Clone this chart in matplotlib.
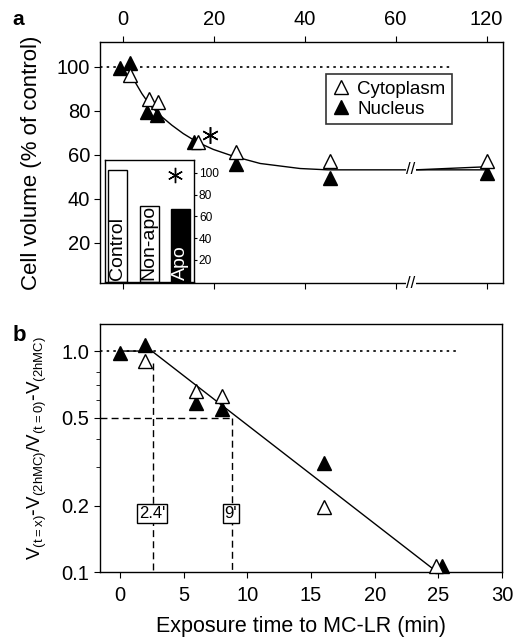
import matplotlib
matplotlib.use("Agg")
import matplotlib.pyplot as plt
import numpy as np

plt.rcParams['font.family'] = ['Liberation Sans', 'DejaVu Sans']
plt.rcParams['axes.linewidth'] = 1.0

# ---- panel a: cell volume (% of control); 120 min is drawn at position 80 after the break
time_cyto_a = [1.6, 5.8, 7.8, 16.5, 24.8, 45.5, 120]
cyto_a = [96.4, 85.5, 84, 66, 61.4, 57, 57]
time_nuc_a = [-0.6, 1.6, 5.4, 7.6, 15.7, 25, 45.5, 120]
nuc_a = [99.5, 102, 79.5, 78, 66, 56, 49.5, 51.8]

# fitted curve
fit_t = [1.6, 2.7, 4.2, 6, 8.2, 10.8, 13.3, 16.3, 19.9, 24.3, 30.2, 39, 45, 62]
fit_v = [97.1, 93.2, 87.9, 82.6, 78, 73.5, 69.7, 65.9, 62.5, 59.4, 56.1, 53.8, 53.2, 53.2]
fit_t2 = [64.3, 120]
fit_v2 = [53.2, 54.6]

top_ticks = [0, 20, 40, 60, 120]

# inset bars
inset_labels = ['Control', 'Non-apo', 'Apo']
inset_vals = [103, 70, 67]
inset_colors = ['white', 'white', 'black']
inset_ticks = [20, 40, 60, 80, 100]

# ---- panel b: normalised volume (log scale)
time_cyto_b = [2, 6, 8, 16, 24.8]
cyto_b = [0.90, 0.66, 0.627, 0.196, 0.106]
time_nuc_b = [0, 2, 6, 8, 16, 25.3]
nuc_b = [0.98, 1.07, 0.585, 0.546, 0.31, 0.107]
fit_b_t = [0, 2.5, 24.9]
fit_b_v = [1.0, 1.0, 0.1]
half_times = [2.6, 8.8]
half_labels = ["2.4'", "9'"]


def brk(t):
    t = np.asarray(t, dtype=float)
    return np.where(t > 60, 80.0, t)


fig = plt.figure(figsize=(5.14, 6.38), dpi=100)

# ================= panel a =================
ax = fig.add_axes([0.1946, 0.5564, 0.784, 0.3782])
ax.set_xlim(-5.0, 83.6)
ax.set_ylim(1.7, 111.5)

ax.plot([-5.0, 72.6], [100, 100], color='black', lw=1.2, ls=(0, (1.5, 2.5)))
ax.plot(brk(fit_t), fit_v, color='black', lw=1.0)
ax.plot([64.3, 80], fit_v2, color='black', lw=1.0)

ax.plot(brk(time_nuc_a), nuc_a, ls='none', marker='^', ms=10.5,
        mfc='black', mec='black', mew=1.0, label='Nucleus', zorder=3)
ax.plot(brk(time_cyto_a), cyto_a, ls='none', marker='^', ms=10.5,
        mfc='white', mec='black', mew=1.0, label='Cytoplasm', zorder=4)

# axis break marks
ax.text(63.3, 53.2, '//', ha='center', va='center', fontsize=12,
        bbox=dict(fc='white', ec='none', pad=0.2), zorder=5)
ax.text(63.3, 1.7, '//', ha='center', va='center', fontsize=12,
        bbox=dict(fc='white', ec='none', pad=0.2), zorder=5, clip_on=False)

# asterisk next to the 16 min point
ax.plot([19.2], [69], marker=(6, 2, 0), ms=12, mew=1.1, color='black', ls='none')

ax.set_xticks(brk(top_ticks))
ax.set_xticklabels([str(t) for t in top_ticks])
ax.tick_params(axis='x', which='both', direction='out', top=True, bottom=True,
               labeltop=True, labelbottom=False, labelsize=14.5, length=4, pad=5)
ax.set_yticks([20, 40, 60, 80, 100])
ax.tick_params(axis='y', direction='out', labelsize=14.5, length=4, pad=3)
ax.set_ylabel('Cell volume (% of control)', fontsize=16, labelpad=11)

handles, labels = ax.get_legend_handles_labels()
leg = ax.legend(handles[::-1], labels[::-1], loc='upper right',
                bbox_to_anchor=(0.873, 0.866), fontsize=13.5, frameon=True,
                fancybox=False, edgecolor='black', handlelength=0.9,
                handletextpad=0.4, borderpad=0.35, labelspacing=0.15,
                borderaxespad=0)
leg.get_frame().set_linewidth(1.2)

fig.text(0.025, 0.985, 'a', fontsize=15, fontweight='bold', ha='left', va='top')

# inset bar chart
ins = fig.add_axes([0.2043, 0.5585, 0.1732, 0.1908])
xs = np.arange(len(inset_vals))
ins.bar(xs, inset_vals, width=0.6, color=inset_colors, edgecolor='black', linewidth=1.0)
ins.set_xlim(-0.41, 2.43)
ins.set_ylim(0, 112)
ins.set_xticks([])
ins.yaxis.tick_right()
ins.set_yticks(inset_ticks)
ins.tick_params(axis='y', direction='out', labelsize=8.6, length=2.5, pad=1)
for x, lab, col in zip(xs, inset_labels, inset_colors):
    ins.text(x, 2, lab, rotation=90, ha='center', va='bottom', fontsize=14,
             color='white' if col == 'black' else 'black')
ins.plot([1.82], [98], marker=(6, 2, 0), ms=11, mew=1.0, color='black', ls='none')

# ================= panel b =================
bx = fig.add_axes([0.1946, 0.1034, 0.7821, 0.3887])
bx.set_yscale('log')
bx.set_xlim(-1.57, 30)
bx.set_ylim(0.1, 1.325)

bx.plot([-1.57, 26.6], [1, 1], color='black', lw=1.2, ls=(0, (1.5, 2.5)))
bx.plot([-1.57, half_times[1]], [0.5, 0.5], color='black', lw=1.0, ls=(0, (5, 3)))
bx.plot([half_times[0], half_times[0]], [0.88, 0.1], color='black', lw=1.0, ls=(0, (5, 3)))
bx.plot([half_times[1], half_times[1]], [0.5, 0.1], color='black', lw=1.0, ls=(0, (5, 3)))
bx.plot(fit_b_t, fit_b_v, color='black', lw=1.0)

bx.plot(time_nuc_b, nuc_b, ls='none', marker='^', ms=10.5, mfc='black',
        mec='black', mew=1.0, zorder=3, clip_on=False)
bx.plot(time_cyto_b, cyto_b, ls='none', marker='^', ms=10.5, mfc='white',
        mec='black', mew=1.0, zorder=4, clip_on=False)

for t, lab in zip(half_times, half_labels):
    bx.text(t - 0.1, 0.184, lab, ha='center', va='center', fontsize=12,
            bbox=dict(fc='white', ec='black', lw=1.0, pad=1.5), zorder=5)

bx.set_xticks([0, 5, 10, 15, 20, 25, 30])
bx.set_yticks([0.1, 0.2, 0.5, 1.0])
bx.set_yticklabels(['0.1', '0.2', '0.5', '1.0'])
bx.set_yticks([0.3, 0.4, 0.6, 0.7, 0.8], minor=True)
bx.yaxis.set_minor_formatter(plt.NullFormatter())
bx.tick_params(axis='both', which='major', direction='out', labelsize=14.5, length=4)
bx.tick_params(axis='y', which='minor', direction='out', length=3)
bx.tick_params(axis='x', pad=6)
bx.set_xlabel('Exposure time to MC-LR (min)', fontsize=15.5, labelpad=8)
bx.set_ylabel(r'$\mathregular{V_{(t=x)}\text{-}V_{(2hMC)}/V_{(t=0)}\text{-}V_{(2hMC)}}$',
              fontsize=13.5, labelpad=9)

fig.text(0.025, 0.49, 'b', fontsize=16, fontweight='bold', ha='left', va='top')

fig.savefig('out.png', dpi=100)
